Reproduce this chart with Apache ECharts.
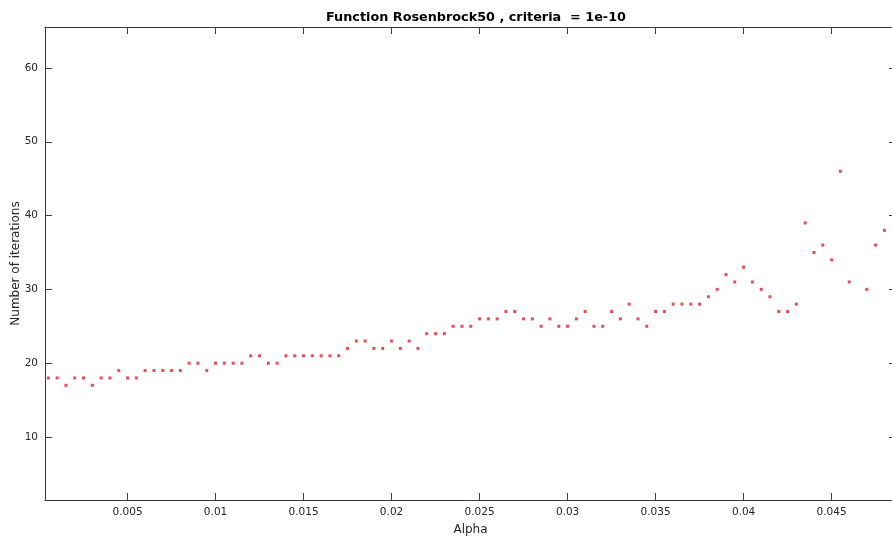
<!DOCTYPE html>
<html>
<head>
<meta charset="utf-8">
<script src="https://cdn.jsdelivr.net/npm/echarts@6/dist/echarts.min.js"></script>
<style>
html,body{margin:0;padding:0;background:#fff;}
#chart{width:892px;height:542px;}
</style>
</head>
<body>
<div id="chart"></div>
<script>
var titleText = 'Function Rosenbrock50 , criteria  = 1e-10';
var xName = 'Alpha';
var yName = 'Number of iterations';

var alphas = [
 0.0005,0.0010,0.0015,0.0020,0.0025,0.0030,0.0035,0.0040,0.0045,0.0050,
 0.0055,0.0060,0.0065,0.0070,0.0075,0.0080,0.0085,0.0090,0.0095,0.0100,
 0.0105,0.0110,0.0115,0.0120,0.0125,0.0130,0.0135,0.0140,0.0145,0.0150,
 0.0155,0.0160,0.0165,0.0170,0.0175,0.0180,0.0185,0.0190,0.0195,0.0200,
 0.0205,0.0210,0.0215,0.0220,0.0225,0.0230,0.0235,0.0240,0.0245,0.0250,
 0.0255,0.0260,0.0265,0.0270,0.0275,0.0280,0.0285,0.0290,0.0295,0.0300,
 0.0305,0.0310,0.0315,0.0320,0.0325,0.0330,0.0335,0.0340,0.0345,0.0350,
 0.0355,0.0360,0.0365,0.0370,0.0375,0.0380,0.0385,0.0390,0.0395,0.0400,
 0.0405,0.0410,0.0415,0.0420,0.0425,0.0430,0.0435,0.0440,0.0445,0.0450,
 0.0455,0.0460,0.0470,0.0475,0.0480
];
var iterations = [
 18,18,17,18,18,17,18,18,19,18,
 18,19,19,19,19,19,20,20,19,20,
 20,20,20,21,21,20,20,21,21,21,
 21,21,21,21,22,23,23,22,22,23,
 22,23,22,24,24,24,25,25,25,26,
 26,26,27,27,26,26,25,26,25,25,
 26,27,25,25,27,26,28,26,25,27,
 27,28,28,28,28,29,30,32,31,33,
 31,30,29,27,27,28,39,35,36,34,
 46,31,30,36,38
];

var xTicks = [0.005,0.01,0.015,0.02,0.025,0.03,0.035,0.04,0.045];
var xTickLabels = ['0.005','0.01','0.015','0.02','0.025','0.03','0.035','0.04','0.045'];
var yTicks = [10,20,30,40,50,60];
var yTickLabels = ['10','20','30','40','50','60'];

var xMin = 0.00031, xMax = 0.04866;
var yMin = 1.46, yMax = 65.55;

var points = alphas.map(function(a, i){ return [a, iterations[i]]; });

var axisColor = '#3a3a3a';
var labelColor = '#262626';
var font = 'DejaVu Sans';

function xFmt(v){
  for (var i=0;i<xTicks.length;i++){ if (Math.abs(xTicks[i]-v)<1e-9) return xTickLabels[i]; }
  return '';
}
function yFmt(v){
  for (var i=0;i<yTicks.length;i++){ if (Math.abs(yTicks[i]-v)<1e-9) return yTickLabels[i]; }
  return '';
}

var chart = echarts.init(document.getElementById('chart'));
chart.setOption({
  animation: false,
  backgroundColor: '#ffffff',
  title: {
    text: titleText,
    left: 471, top: 6, textAlign: 'center',
    textStyle: {fontFamily: font, fontSize: 12.8, fontWeight: 'bold', color: '#000'}
  },
  grid: {left: 45, top: 27, width: 851, height: 473, containLabel: false, outerBoundsMode: 'none'},
  xAxis: [{
    type: 'value', min: xMin, max: xMax, position: 'bottom',
    name: xName, nameLocation: 'middle', nameGap: 24, nameMoveOverlap: false,
    nameTextStyle: {fontFamily: font, fontSize: 12, color: labelColor},
    axisLine: {show: true, onZero: false, lineStyle: {color: axisColor, width: 1}},
    axisTick: {show: true, inside: true, length: 7, customValues: xTicks, lineStyle: {color: axisColor}},
    axisLabel: {show: true, customValues: xTicks, formatter: xFmt, fontFamily: font, fontSize: 10.5, color: labelColor, margin: 7},
    splitLine: {show: false}
  },{
    type: 'value', min: xMin, max: xMax, position: 'top',
    axisLine: {show: true, onZero: false, lineStyle: {color: axisColor, width: 1}},
    axisTick: {show: true, inside: true, length: 7, customValues: xTicks, lineStyle: {color: axisColor}},
    axisLabel: {show: false},
    splitLine: {show: false}
  }],
  yAxis: [{
    type: 'value', min: yMin, max: yMax, position: 'left',
    name: yName, nameLocation: 'middle', nameGap: 23, nameRotate: 90, nameMoveOverlap: false,
    nameTextStyle: {fontFamily: font, fontSize: 12, color: labelColor},
    axisLine: {show: true, onZero: false, lineStyle: {color: axisColor, width: 1}},
    axisTick: {show: true, inside: true, length: 7, customValues: yTicks, lineStyle: {color: axisColor}},
    axisLabel: {show: true, customValues: yTicks, formatter: yFmt, fontFamily: font, fontSize: 10.5, color: labelColor, margin: 7},
    splitLine: {show: false}
  },{
    type: 'value', min: yMin, max: yMax, position: 'right',
    axisLine: {show: true, onZero: false, lineStyle: {color: axisColor, width: 1}},
    axisTick: {show: true, inside: true, length: 7, customValues: yTicks, lineStyle: {color: axisColor}},
    axisLabel: {show: false},
    splitLine: {show: false}
  }],
  series: [{
    type: 'scatter',
    xAxisIndex: 0, yAxisIndex: 0,
    data: points,
    symbol: 'rect',
    symbolSize: 3,
    itemStyle: {color: '#e0202a'},
    silent: true
  }]
});
</script>
</body>
</html>
